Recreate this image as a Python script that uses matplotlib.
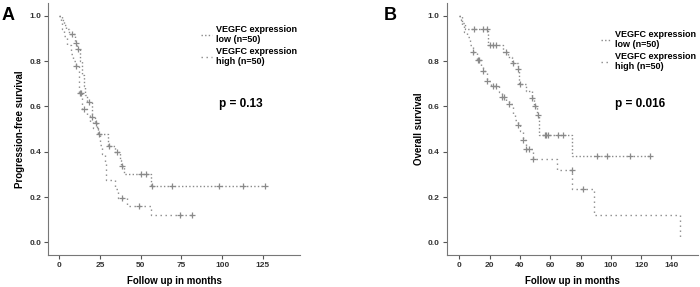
import numpy as np
import matplotlib
matplotlib.use("Agg")
import matplotlib.pyplot as plt
from matplotlib.lines import Line2D

plt.rcParams["font.family"] = ["Liberation Sans", "DejaVu Sans"]

# Panel A: progression-free survival (step times, survival after step, censor times)
a_low_t = [0, 2, 3, 4, 6, 9.5, 11, 13, 14, 15, 16, 17, 20, 22, 23, 24, 30, 34, 37, 38, 40, 56.6]
a_low_s = [1.0, 0.98, 0.96, 0.94, 0.92, 0.88, 0.855, 0.80, 0.74, 0.69, 0.65, 0.62, 0.555, 0.528, 0.50, 0.478,
           0.425, 0.397, 0.365, 0.337, 0.30, 0.248]
a_low_end = 126
a_low_cens = [7.6, 10.2, 11.7, 18.4, 20.2, 22.3, 24.5, 30.6, 35.2, 38.8, 49.9, 53.1, 57.2, 69, 98, 113, 126]

a_high_t = [0, 1, 2, 3, 5, 7, 8.5, 10, 12, 14, 17, 19, 21, 23.5, 25, 26, 28, 29, 34, 36, 41.7, 56.6]
a_high_s = [1.0, 0.97, 0.94, 0.91, 0.87, 0.83, 0.80, 0.778, 0.657, 0.588, 0.56, 0.53, 0.503, 0.478,
            0.43, 0.39, 0.35, 0.275, 0.235, 0.194, 0.16, 0.12]
a_high_end = 82
a_high_cens = [10.6, 12.7, 13.2, 15.3, 49, 38.8, 74, 81.7]

# Panel B: overall survival
b_low_t = [0, 2, 3.7, 19.1, 29, 32, 35, 38.5, 39.6, 44, 47.7, 49.5, 51, 52.5, 74.7]
b_low_s = [1.0, 0.97, 0.94, 0.873, 0.84, 0.82, 0.79, 0.766, 0.70, 0.667, 0.635, 0.60, 0.56, 0.475, 0.383]
b_low_end = 126
b_low_cens = [9.7, 15.8, 18.0, 20.2, 22.0, 24.0, 30.5, 35.2, 38.8, 39.8, 48.3, 50.0, 52.2, 56.5, 57.5,
              58.7, 65.3, 68.6, 90.6, 97.8, 112.5, 125.7]

b_high_t = [0, 1, 2, 3, 5, 7, 9.2, 11.4, 14, 15.8, 18, 21, 26, 28, 31, 33, 35.6, 37, 38.5, 40, 41.8, 44,
            48.8, 64.6, 74.5, 88.8, 146]
b_high_s = [1.0, 0.98, 0.956, 0.93, 0.905, 0.87, 0.842, 0.803, 0.78, 0.755, 0.712, 0.69, 0.665, 0.64,
            0.625, 0.61, 0.56, 0.54, 0.52, 0.49, 0.453, 0.413, 0.368, 0.317, 0.236, 0.12, 0.015]
b_high_end = 146
b_high_cens = [9.2, 12.5, 13.3, 15.8, 18.0, 22.4, 24.0, 28.0, 29.4, 33.0, 38.5, 41.8, 44.0, 46.2, 48.8,
               74.1, 81.8]

legend_labels = ["VEGFC expression\nlow (n=50)", "VEGFC expression\nhigh (n=50)"]

grey = "#8a8a8a"
low_dash = (0, (1, 1.6))
high_dash = (0, (1, 2.6))


def km(ax, t, s, end, cens, dash):
    tt = list(t) + [end]
    ss = list(s) + [s[-1]]
    ax.step(tt, ss, where="post", color=grey, lw=1.0, linestyle=dash)
    ct = np.array(cens)
    idx = np.searchsorted(np.array(t), ct, side="right") - 1
    cs = np.array(s)[idx]
    ax.plot(ct, cs, linestyle="none", marker="+", ms=4, mew=0.9, color=grey)


def style(ax, xmin, xmax, xticks, ylabel, leg_anchor):
    ax.set_xlim(xmin, xmax)
    ax.set_ylim(-0.056, 1.055)
    ax.set_xticks(xticks)
    ax.set_yticks([0.0, 0.2, 0.4, 0.6, 0.8, 1.0])
    ax.set_yticklabels(["0.0", "0.2", "0.4", "0.6", "0.8", "1.0"])
    for sp in ["top", "right"]:
        ax.spines[sp].set_visible(False)
    for sp in ["left", "bottom"]:
        ax.spines[sp].set_color("#777777")
        ax.spines[sp].set_linewidth(0.8)
    ax.tick_params(length=3, width=0.8, color="#555555", labelsize=6, pad=2, labelcolor="#333333")
    for lab in ax.get_xticklabels() + ax.get_yticklabels():
        lab.set_fontweight("bold")
    ax.set_xlabel("Follow up in months", fontsize=7, fontweight="bold", labelpad=5)
    ax.set_ylabel(ylabel, fontsize=7, fontweight="bold", labelpad=3)
    handles = [Line2D([0], [0], color=grey, lw=1.0, linestyle=low_dash),
               Line2D([0], [0], color=grey, lw=1.0, linestyle=high_dash)]
    ax.legend(handles, legend_labels, loc="upper right", bbox_to_anchor=leg_anchor, frameon=False,
              handlelength=1.2, handletextpad=0.4, labelspacing=0.3,
              prop={"weight": "bold", "size": 6.5})


fig = plt.figure(figsize=(7.0, 2.87), dpi=100)
axA = fig.add_axes([0.069, 0.1115, 0.359, 0.877])
axB = fig.add_axes([0.638, 0.1115, 0.359, 0.877])

km(axA, a_low_t, a_low_s, a_low_end, a_low_cens, low_dash)
km(axA, a_high_t, a_high_s, a_high_end, a_high_cens, high_dash)
style(axA, -6.7, 147.5, [0, 25, 50, 75, 100, 125], "Progression-free survival", (1.02, 0.948))
axA.text(0.68, 0.6, "p = 0.13", transform=axA.transAxes, fontsize=8.5, fontweight="bold", va="center")

km(axB, b_low_t, b_low_s, b_low_end, b_low_cens, low_dash)
km(axB, b_high_t, b_high_s, b_high_end, b_high_cens, high_dash)
style(axB, -8.4, 157.5, [0, 20, 40, 60, 80, 100, 120, 140], "Overall survival", (1.025, 0.928))
axB.text(0.67, 0.6, "p = 0.016", transform=axB.transAxes, fontsize=8.5, fontweight="bold", va="center")

fig.text(0.002, 0.975, "A", fontsize=13, fontweight="bold", va="top")
fig.text(0.548, 0.975, "B", fontsize=13, fontweight="bold", va="top")

fig.savefig("out.png", dpi=100)
